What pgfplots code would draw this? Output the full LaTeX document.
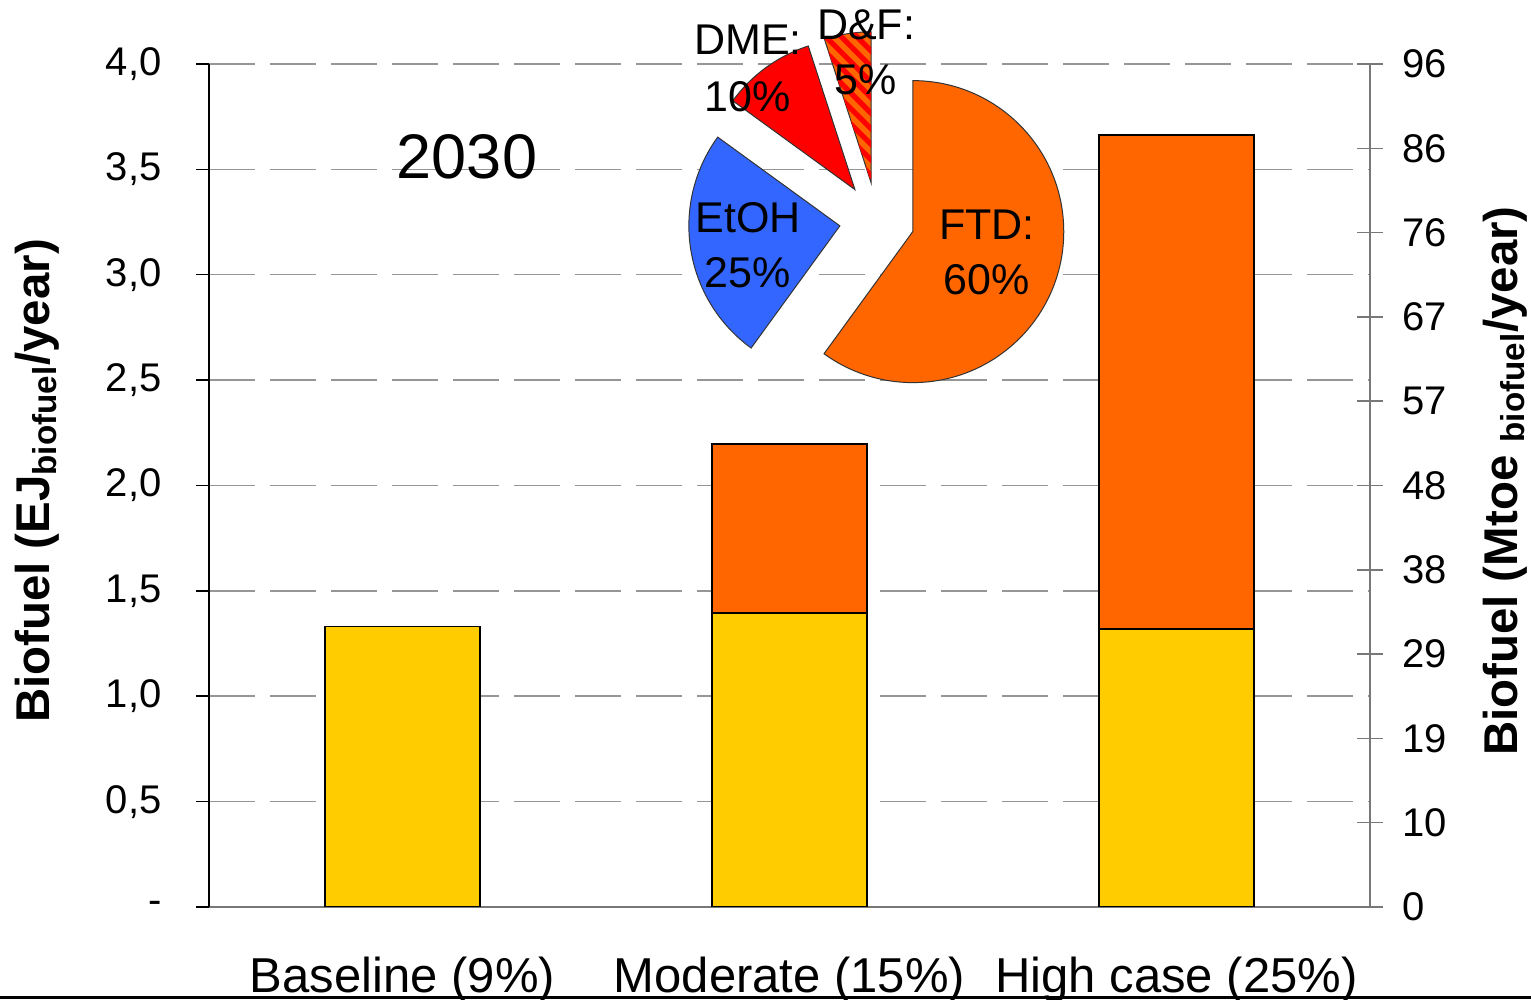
\documentclass[border=0pt]{standalone}
\usepackage{fontspec}
\setmainfont{Liberation Sans}
\usepackage{pgfplots}
\pgfplotsset{compat=1.18}
\usetikzlibrary{patterns.meta}

\definecolor{fyellow}{RGB}{255,204,0}
\definecolor{forange}{RGB}{255,102,0}
\definecolor{pblue}{RGB}{51,102,255}
\definecolor{pred}{RGB}{255,0,0}
\definecolor{gridgray}{RGB}{150,150,150}
\definecolor{axgray}{RGB}{120,120,120}

% pie shares (percent), clockwise from 12 o'clock
\def\pFTD{60}\def\pEtOH{25}\def\pDME{10}\def\pDF{5}
\pgfmathsetmacro\aA{90}
\pgfmathsetmacro\aB{\aA-3.6*\pFTD}
\pgfmathsetmacro\aC{\aB-3.6*\pEtOH}
\pgfmathsetmacro\aD{\aC-3.6*\pDME}
\pgfmathsetmacro\aE{\aD-3.6*\pDF}
\def\ex{0.249}

\begin{document}
\begin{tikzpicture}
\path[use as bounding box] (0,0) rectangle (765.5pt,500pt);
\coordinate (O) at (104.5pt,46.5pt);

\begin{axis}[
    at={(O)}, anchor=south west,
    scale only axis, width=580.5pt, height=421.5pt,
    xmin=0, xmax=3, ymin=0, ymax=4,
    axis x line*=bottom, axis y line*=left,
    x axis line style={axgray, line width=0.75pt},
    y axis line style={black, line width=0.75pt},
    ybar stacked, bar width=0.4,
    xtick={0.5,1.5,2.5},
    xticklabels={Baseline (9\%), Moderate (15\%), High case (25\%)},
    minor xtick={0,1,2,3},
    tick align=outside,
    major tick length=6.5pt, minor tick length=6.5pt,
    xtick style={draw=none},
    minor x tick style={black!70, line width=0.75pt},
    ytick={0,0.5,1,1.5,2,2.5,3,3.5,4},
    yticklabels={-,{0,5},{1,0},{1,5},{2,0},{2,5},{3,0},{3,5},{4,0}},
    ytick style={black, line width=0.75pt},
    ymajorgrids,
    major grid style={gridgray, line width=0.75pt, dash pattern=on 23pt off 7.5pt},
    yticklabel style={font=\fontsize{20}{24}\selectfont, anchor=east, inner sep=0pt, xshift=-17pt},
    xticklabel style={font=\fontsize{24.5}{29}\selectfont, anchor=base, inner sep=0pt, yshift=-36pt},
]
\addplot[fill=fyellow, draw=black, line width=0.75pt] coordinates {(0.5,1.33) (1.5,1.395) (2.5,1.32)};
\addplot[fill=forange, draw=black, line width=0.75pt] coordinates {(0.5,0) (1.5,0.802) (2.5,2.343)};
\end{axis}

\begin{axis}[
    at={(O)}, anchor=south west,
    scale only axis, width=580.5pt, height=421.5pt,
    xmin=0, xmax=3, ymin=0, ymax=4,
    hide x axis,
    axis y line*=right,
    y axis line style={axgray, line width=0.75pt},
    ytick={0,0.4,0.8,1.2,1.6,2.0,2.4,2.8,3.2,3.6,4.0},
    yticklabels={0,10,19,29,38,48,57,67,76,86,96},
    tick align=center, major tick length=13pt,
    ytick style={axgray, line width=0.75pt},
    yticklabel style={font=\fontsize{20}{24}\selectfont, anchor=west, inner sep=0pt, xshift=9.5pt},
]
\addplot[draw=none] coordinates {(0,0) (3,4)};
\end{axis}

% pie of the 2030 high case mix
\begin{axis}[
    at={(438.5pt,390pt)}, anchor=center,
    scale only axis, width=151pt, height=151pt,
    xmin=-1, xmax=1, ymin=-1, ymax=1,
    disabledatascaling,
    hide axis, clip=false,
]
\draw[fill=forange, draw=black!80, line width=0.5pt]
  ({\ex*cos((\aA+\aB)/2)},{\ex*sin((\aA+\aB)/2)}) -- ++(\aA:1)
  arc[start angle=\aA, end angle=\aB, radius=1] -- cycle;
\draw[fill=pblue, draw=black!80, line width=0.5pt]
  ({\ex*cos((\aB+\aC)/2)},{\ex*sin((\aB+\aC)/2)}) -- ++(\aB:1)
  arc[start angle=\aB, end angle=\aC, radius=1] -- cycle;
\draw[fill=pred, draw=black!80, line width=0.5pt]
  ({\ex*cos((\aC+\aD)/2)},{\ex*sin((\aC+\aD)/2)}) -- ++(\aC:1)
  arc[start angle=\aC, end angle=\aD, radius=1] -- cycle;
\draw[fill=forange, draw=black!80, line width=0.5pt,
      postaction={pattern={Lines[angle=-45, distance=5.5pt, line width=2.6pt]}, pattern color=pred}]
  ({\ex*cos((\aD+\aE)/2)},{\ex*sin((\aD+\aE)/2)}) -- ++(\aD:1)
  arc[start angle=\aD, end angle=\aE, radius=1] -- cycle;
\end{axis}

\begin{scope}[every node/.style={inner sep=0pt, font=\fontsize{21.5}{26}\selectfont}]
\node at (374pt,480pt) {DME:};
\node at (374pt,451.5pt) {10\%};
\node at (433pt,487.5pt) {D\&F:};
\node at (433pt,460pt) {5\%};
\node at (374pt,391pt) {EtOH};
\node at (374pt,363.5pt) {25\%};
\node at (493.5pt,387.5pt) {FTD:};
\node at (493.5pt,360pt) {60\%};
\end{scope}
\node[inner sep=0pt, font=\fontsize{31.5}{38}\selectfont] at (233.5pt,421.5pt) {2030};

\node[rotate=90, inner sep=0pt, font=\bfseries\fontsize{23.7}{28}\selectfont]
  at (18.5pt,259.5pt) {Biofuel (EJ\textsubscript{biofuel}/year)};
\node[rotate=90, inner sep=0pt, font=\bfseries\fontsize{23.7}{28}\selectfont]
  at (752.5pt,259.5pt) {Biofuel (Mtoe \textsubscript{biofuel}/year)};

\draw[black, line width=1.5pt] (0,1pt) -- (765.5pt,1pt);
\end{tikzpicture}
\end{document}
